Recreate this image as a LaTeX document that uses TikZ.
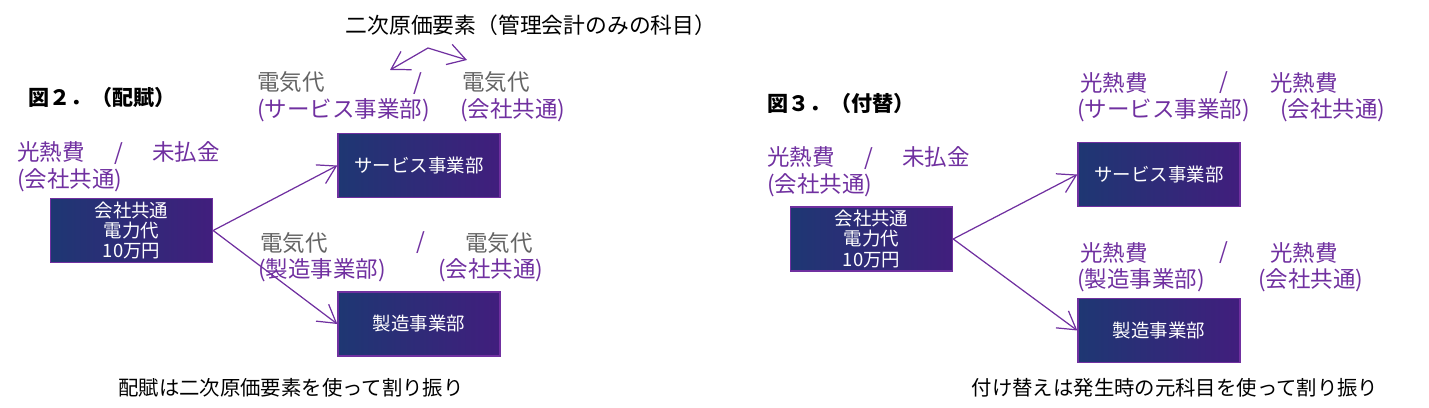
\documentclass[tikz,border=0pt]{standalone}
\usepackage{fontspec}
\setmainfont{Noto Sans CJK JP}
\usepackage{tikz}
\usetikzlibrary{positioning, arrows.meta}
\definecolor{kpurple}{RGB}{112,48,160}
\definecolor{kgray}{RGB}{100,100,100}
\definecolor{knavy}{RGB}{30,55,115}
\definecolor{kviolet}{RGB}{65,30,125}

\tikzset{
  dept/.style={draw=kpurple, line width=0.8pt, left color=knavy, right color=kviolet,
    text=white, minimum width=3.24cm, minimum height=1.28cm, align=center, inner sep=0pt,
    font=\fontsize{10.5}{11.6}\selectfont},
  acct/.style={text=kpurple, anchor=west, inner sep=0pt, font=\fontsize{12.8}{14}\selectfont},
  elec/.style={acct, text=kgray},
  note/.style={inner sep=0pt, font=\fontsize{11.6}{13}\selectfont},
  ttl/.style={inner sep=0pt, anchor=west, font=\fontsize{12}{14}\selectfont\bfseries},
  flow/.style={->, >={Straight Barb[length=10pt,width=12pt]}, draw=kpurple, line width=0.7pt}
}

\begin{document}
\begin{tikzpicture}[x=0.02cm, y=-0.02cm]
  \useasboundingbox (0,0) rectangle (1429,408);

  % figure 2
  \node[ttl] (t2) at (28,97) {図２．（配賦）};
  \node[note, font=\fontsize{12.4}{14}\selectfont] (sec) at (531,25) {二次原価要素（管理会計のみの科目）};
  \node[acct] (a1) at (17,153) {光熱費\hspace{1.3em}/\hspace{1.3em}未払金};
  \node[acct] (a1b) at (17,180) {(会社共通)};

  \node[dept] (c2) at (131.5,230.5) {会社共通\\電力代\\10万円};
  \node[dept] (s2) at (419,165.5) {サービス事業部};
  \node[dept] (m2) at (419,324) {製造事業部};

  \node[elec] (e1) at (257,82) {電気代};
  \node[acct] (e1b) at (257,110) {(サービス事業部)};
  \node[acct] (e1s) at (413,84) {/};
  \node[elec] (e2) at (462,82) {電気代};
  \node[acct] (e2b) at (460,110) {(会社共通)};

  \node[elec] (e3) at (260,243) {電気代};
  \node[acct] (e3b) at (258,270) {(製造事業部)};
  \node[acct] (e3s) at (416,243) {/};
  \node[elec] (e4) at (465,243) {電気代};
  \node[acct] (e4b) at (438,270) {(会社共通)};

  \coordinate (tl) at (390,70);
  \coordinate (tm) at (428,48);
  \coordinate (tr) at (467,60);
  \draw[flow, <->] (tl) -- (tm) -- (tr);

  \draw[flow] (c2.east) -- (s2.west);
  \draw[flow] (c2.east) -- (m2.west);

  \node[note] (p2) at (291,388) {配賦は二次原価要素を使って割り振り};

  % figure 3
  \node[ttl] (t3) at (767,103) {図３．（付替）};
  \node[acct] (a2) at (767,158) {光熱費\hspace{1.3em}/\hspace{1.3em}未払金};
  \node[acct] (a2b) at (767,185) {(会社共通)};

  \node[dept] (c3) at (871.5,239) {会社共通\\電力代\\10万円};
  \node[dept] (s3) at (1159,174.5) {サービス事業部};
  \node[dept] (m3) at (1159,330.5) {製造事業部};

  \node[acct] (k1) at (1080,83) {光熱費};
  \node[acct] (k1b) at (1077,110) {(サービス事業部)};
  \node[acct] (k1s) at (1219,83) {/};
  \node[acct] (k2) at (1270,83) {光熱費};
  \node[acct] (k2b) at (1280,110) {(会社共通)};

  \node[acct] (k3) at (1080,253) {光熱費};
  \node[acct] (k3b) at (1077,280) {(製造事業部)};
  \node[acct] (k3s) at (1219,253) {/};
  \node[acct] (k4) at (1270,253) {光熱費};
  \node[acct] (k4b) at (1258,280) {(会社共通)};

  \draw[flow] (c3.east) -- (s3.west);
  \draw[flow] (c3.east) -- (m3.west);

  \node[note] (p3) at (1175,388) {付け替えは発生時の元科目を使って割り振り};
\end{tikzpicture}
\end{document}
